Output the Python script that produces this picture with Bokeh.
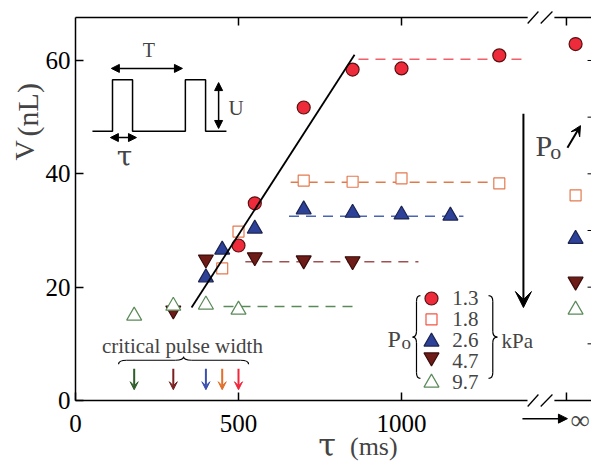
import numpy as np
from bokeh.plotting import figure
from bokeh.models import (Range1d, LinearAxis, FixedTicker, Label, Arrow,
                          VeeHead, NormalHead)
from bokeh.embed import file_html
from bokeh.resources import INLINE

FONT = "Liberation Serif"
TAU_FONT = "DejaVu Serif"

# ---------------- data ----------------
P_o_labels = ["1.3", "1.8", "2.6", "4.7", "9.7"]

tau_13 = [500, 550, 700, 850, 1000, 1300]
V_13 = [27.35, 34.8, 51.7, 58.4, 58.6, 60.9]
tau_18 = [450, 500, 700, 850, 1000, 1300]
V_18 = [23.3, 29.8, 38.8, 38.6, 39.2, 38.3]
tau_26 = [400, 450, 550, 700, 850, 1000, 1150]
V_26 = [21.7, 26.6, 30.3, 33.7, 33.1, 32.8, 32.6]
tau_47 = [300, 400, 550, 700, 850]
V_47 = [15.9, 24.9, 25.3, 24.75, 24.6]
tau_97 = [180, 300, 400, 500]
V_97 = [14.95, 16.7, 16.9, 16.0]

V_inf = [62.9, 36.2, 28.5, 21.0, 16.0]          # values at tau -> infinity

plateau_V = [60.2, 38.5, 32.5, 24.5, 16.6]
plateau_from = [868, 660, 655, 521, 454]
plateau_to = [1386, 1325, 1190, 1052, 859]

critical_tau = [500, 450, 400, 300, 180]

fit_tau = [356, 856]
fit_V = [16.4, 61.0]

x_ticks = [0, 500, 1000]
y_ticks = [0, 20, 40, 60]
y_ticks_right = [10, 20, 30, 40, 50, 60]

TAU_INF_TICK = 1506      # axis position standing for infinity
TAU_INF_PTS = 1534       # where the infinity points are drawn
BREAK = (1387, 1469)     # axis break
X_END, Y_TOP = 1583, 67.58   # right and top edges of the plot box

# pixel scale of the axes: 0.326 px per ms, 5.667 px per nL
PX_X, PX_Y = 0.326, 5.667

# ---------------- styles ----------------
fills = ["#ee2b3b", "white", "#2e4199", "#6e1c18", "white"]
lines = ["#5a1010", "#e47a50", "#1c2450", "#3a0c0a", "#5a8a58"]
markers = ["circle", "square", "triangle", "inverted_triangle", "triangle"]
sizes = [13, 11, 15, 15, 15]
dash_colors = ["#f0606a", "#e07a4a", "#4a64b8", "#a05050", "#5a8a58"]
arrow_colors = ["#f0283c", "#e0702a", "#3a4fb0", "#7a2020", "#2f5e2a"]

p = figure(width=591, height=465,
           x_range=Range1d(-75 / PX_X, (591 - 75) / PX_X),
           y_range=Range1d((400 - 465) / PX_Y, 400 / PX_Y),
           output_backend="svg", toolbar_location=None,
           x_axis_location=None, y_axis_location=None, min_border=0)
p.xgrid.visible = False
p.ygrid.visible = False
p.outline_line_color = None
p.background_fill_color = "white"
p.border_fill_color = "white"

SHIFT = 0.27   # baseline correction, in em


def lab(x, y, text, fs, align="left", rot=False, font=FONT):
    """Label whose y (or x when rotated) is the alphabetic baseline."""
    if rot:
        x = x - SHIFT * fs / PX_X
    else:
        y = y + SHIFT * fs / PX_Y
    p.add_layout(Label(x=x, y=y, text=text, text_font=font, text_font_size=f"{fs}px",
                       text_align=align, text_baseline="alphabetic",
                       angle=(np.pi / 2 if rot else 0)))


def style_axis(ax, tick_in=8):
    ax.major_tick_in = tick_in
    ax.major_tick_out = 0
    ax.minor_tick_line_color = None
    ax.major_tick_line_color = "black"
    ax.major_tick_line_width = 1.5
    ax.axis_line_width = 1.5
    ax.axis_line_color = "black"
    ax.major_label_text_font = FONT
    ax.major_label_text_font_size = "25px"
    ax.major_label_text_color = "black"


left = LinearAxis(ticker=FixedTicker(ticks=y_ticks), fixed_location=0, bounds=(0, Y_TOP))
style_axis(left)
left.major_label_standoff = 5
p.add_layout(left, "left")

below = LinearAxis(ticker=FixedTicker(ticks=x_ticks), fixed_location=0, bounds=(0, BREAK[0]))
style_axis(below)
below.major_label_standoff = 14
p.add_layout(below, "below")

BLK = dict(line_color="black", line_width=1.5)
# remaining pieces of the broken bottom / top axes
p.segment(x0=[BREAK[1], 0, BREAK[1]], y0=[0, Y_TOP, Y_TOP],
          x1=[X_END, BREAK[0], X_END], y1=[0, Y_TOP, Y_TOP], **BLK)
# inward ticks: bottom inf tick, top ticks, right ticks
top_ticks = x_ticks[1:] + [TAU_INF_TICK]
p.segment(x0=[TAU_INF_TICK], y0=[0], x1=[TAU_INF_TICK], y1=[8 / PX_Y], **BLK)
p.segment(x0=top_ticks, y0=[Y_TOP] * 3, x1=top_ticks, y1=[Y_TOP - 8 / PX_Y] * 3, **BLK)
p.segment(x0=[X_END - 4 / PX_X] * 6, y0=y_ticks_right, x1=[X_END] * 6, y1=y_ticks_right,
          line_color="black", line_width=1)
# break marks
sl = 12 / PX_Y / 2
for yy in (0, Y_TOP):
    p.segment(x0=[BREAK[0], BREAK[0] + 40], y0=[yy - sl] * 2,
              x1=[BREAK[0] + 33, BREAK[0] + 76], y1=[yy + sl] * 2, line_color="black",
              line_width=1.3)

# arrow to infinity + label
p.add_layout(Arrow(end=NormalHead(size=9, fill_color="black", line_color="black"),
                   x_start=1371, y_start=-3.2, x_end=TAU_INF_TICK + 3, y_end=-3.2,
                   line_width=1.5, line_color="black"))
p.add_layout(Label(x=1548, y=-3.5, text="∞", text_font=FONT, text_font_size="27px",
                   text_align="center", text_baseline="middle"))

# axis titles
lab(745, -9.3, "τ", 32, font=TAU_FONT)
lab(842, -9.3, "(ms)", 26)
lab(-132, 42.35, "V", 28, rot=True)
lab(-123, 46.6, "(nL)", 30, rot=True)

# ---------------- plateaus ----------------
for i in range(5):
    p.line([plateau_from[i], plateau_to[i]], [plateau_V[i]] * 2, line_color=dash_colors[i],
           line_width=1.5, line_dash="10 7")

# ---------------- markers ----------------
series = [(tau_13, V_13), (tau_18, V_18), (tau_26, V_26), (tau_47, V_47), (tau_97, V_97)]
for i in [3, 4, 1, 2, 0]:
    t, v = series[i]
    p.scatter(t + [TAU_INF_PTS], v + [V_inf[i]], marker=markers[i], size=sizes[i],
              fill_color=fills[i], line_color=lines[i], line_width=1.2)

# fit line
p.line(fit_tau, fit_V, line_color="black", line_width=1.8)

# ---------------- critical pulse width ----------------
for i in range(5):
    p.add_layout(Arrow(end=VeeHead(size=8, fill_color=arrow_colors[i], line_color=arrow_colors[i]),
                       x_start=critical_tau[i], y_start=5.6, x_end=critical_tau[i], y_end=1.9,
                       line_width=2, line_color=arrow_colors[i]))
lab(328, 8.65, "critical pulse width", 21, align="center")


def hbrace(xl, xr, y0, ye, yt, dx):
    xm = (xl + xr) / 2
    qs = [(xl, ye, xl + dx, y0, xl, y0), (xm - dx, y0, xm, yt, xm, y0),
          (xm, yt, xm + dx, y0, xm, y0), (xr - dx, y0, xr, ye, xr, y0)]
    for q in qs:
        p.quadratic(x0=[q[0]], y0=[q[1]], x1=[q[2]], y1=[q[3]], cx=[q[4]], cy=[q[5]],
                    line_color="black", line_width=1.2)
    p.line([xl + dx, xm - dx], [y0, y0], line_color="black", line_width=1.2)
    p.line([xm + dx, xr - dx], [y0, y0], line_color="black", line_width=1.2)


def vbrace(xe, xb, xt, yt, yb, dy):
    ym = (yt + yb) / 2
    qs = [(xe, yt, xb, yt - dy, xb, yt), (xb, ym + dy, xt, ym, xb, ym),
          (xt, ym, xb, ym - dy, xb, ym), (xb, yb + dy, xe, yb, xb, yb)]
    for q in qs:
        p.quadratic(x0=[q[0]], y0=[q[1]], x1=[q[2]], y1=[q[3]], cx=[q[4]], cy=[q[5]],
                    line_color="black", line_width=1.2)
    p.line([xb, xb], [yt - dy, ym + dy], line_color="black", line_width=1.2)
    p.line([xb, xb], [ym - dy, yb + dy], line_color="black", line_width=1.2)


hbrace(132, 531, 7.1, 6.4, 7.7, 25)

# ---------------- legend ----------------
leg_x = 1092
leg_y = [18.0, 14.3, 10.36, 7.63, 3.13]
leg_base = [17.1, 13.4, 9.7, 6.0, 2.3]
leg_line = ["#5a1010", "#f25545", "#1c2450", "#3a0c0a", "#5a8a58"]
for i in range(5):
    p.scatter([leg_x], [leg_y[i]], marker=markers[i], size=sizes[i], fill_color=fills[i],
              line_color=leg_line[i], line_width=1.2)
    lab(1156, leg_base[i], P_o_labels[i], 21)
vbrace(1058, 1046, 1034, 18.5, 3.9, 1.0)
vbrace(1267, 1280, 1294, 18.5, 3.9, 1.0)
lab(957, 9.7, "P", 24)
lab(1000, 9.3, "o", 19)
lab(1307, 9.5, "kPa", 21)

# ---------------- P_o direction arrow ----------------
p.add_layout(Arrow(end=VeeHead(size=16, fill_color="black", line_color="black"),
                   x_start=1374, y_start=50.6, x_end=1374, y_end=16.4,
                   line_width=2, line_color="black"))
lab(1411, 43.6, "P", 30)
lab(1456, 42.9, "o", 22)
p.add_layout(Arrow(end=VeeHead(size=10, fill_color="black", line_color="black"),
                   x_start=1509, y_start=44.6, x_end=1549, y_end=48.5,
                   line_width=2, line_color="black"))

# ---------------- inset: pulse train ----------------
pulse_x = [52, 113.5, 113.5, 175, 175, 337, 337, 399, 399, 463]
pulse_y = [47.5, 47.5, 56.6, 56.6, 47.5, 47.5, 56.6, 56.6, 47.5, 47.5]
p.line(pulse_x, pulse_y, line_color="black", line_width=1.5)


def dbl(x0, y0, x1, y1):
    p.add_layout(Arrow(start=NormalHead(size=8, fill_color="black", line_color="black"),
                       end=NormalHead(size=8, fill_color="black", line_color="black"),
                       x_start=x0, y_start=y0, x_end=x1, y_end=y1,
                       line_width=1.5, line_color="black"))


dbl(110, 58.6, 328, 58.6)
dbl(439, 56.1, 439, 48.0)
dbl(107, 46.4, 187, 46.4)
lab(225, 60.9, "T", 20, align="center")
lab(469, 50.6, "U", 21)
lab(150, 41.8, "τ", 28, align="center", font=TAU_FONT)

open("out.html", "w").write(file_html(p, INLINE))
